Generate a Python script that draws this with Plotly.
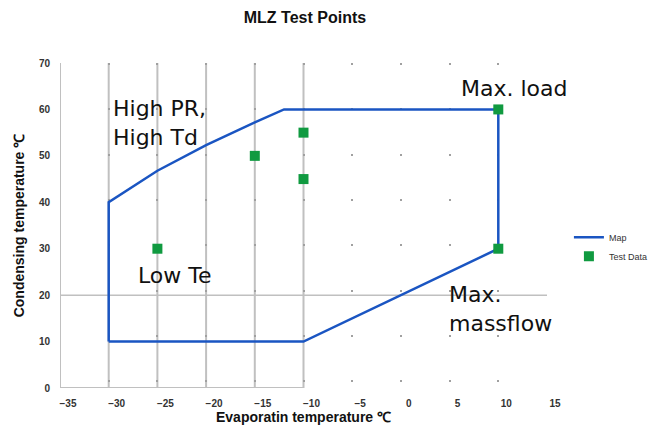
import plotly.graph_objects as go

# Map envelope
map_x = [-30, -10, 10, 10, -12, -15, -20, -25, -30, -30]
map_y = [10, 10, 30, 60, 60, 57.2, 52.3, 46.8, 40, 10]

# Test points
test_x = [-25, -15, -10, -10, 10, 10]
test_y = [30, 50, 55, 45, 60, 30]

x_ticks = [-35, -30, -25, -20, -15, -10, -5, 0, 5, 10, 15]
y_ticks = [0, 10, 20, 30, 40, 50, 60, 70]
solid_x_grid = [-35, -30, -25, -20, -15, -10]
solid_y_grid = [20]

ann_text = ["High PR,<br>High Td", "Max. load", "Low Te", "Max.<br>massflow"]
ann_x = [-29.8, 11.7, -23.2, 4.7]
ann_y = [57.0, 64.5, 24.3, 17.0]
ann_anchor = ["left", "center", "center", "left"]

GRID = "#c0c0c0"
BLUE = "#1a55c2"
GREEN = "#109a40"

fig = go.Figure()
fig.add_trace(go.Scatter(x=map_x, y=map_y, mode="lines", name="Map",
                         line=dict(color=BLUE, width=2.5)))
fig.add_trace(go.Scatter(x=test_x, y=test_y, mode="markers", name="Test Data",
                         marker=dict(color=GREEN, symbol="square", size=10)))

shapes = []
for gx in solid_x_grid:
    shapes.append(dict(type="line", xref="x", yref="y", x0=gx, x1=gx, y0=0, y1=70,
                       line=dict(color=GRID, width=2), layer="below"))
for gy in solid_y_grid:
    shapes.append(dict(type="line", xref="x", yref="y", x0=-35, x1=15, y0=gy, y1=gy,
                       line=dict(color=GRID, width=1.5), layer="below"))
shapes.append(dict(type="line", xref="x", yref="y", x0=-35, x1=-10, y0=0, y1=0,
                   line=dict(color=GRID, width=2), layer="below"))

annotations = []
for t, ax, ay, anc in zip(ann_text, ann_x, ann_y, ann_anchor):
    annotations.append(dict(text=t, x=ax, y=ay, xref="x", yref="y", showarrow=False,
                            xanchor=anc, yanchor="middle", align="left",
                            font=dict(family="DejaVu Sans", size=22, color="#111111")))

fig.update_layout(
    width=650, height=417,
    margin=dict(l=52, r=111, t=55, b=37, autoexpand=False),
    paper_bgcolor="white", plot_bgcolor="white",
    title=dict(text="<b>MLZ Test Points</b>", xref="paper", x=0.503, xanchor="center",
               yref="container", y=0.978, yanchor="middle",
               font=dict(family="Liberation Sans", size=16, color="#111111")),
    shapes=shapes,
    annotations=annotations,
    legend=dict(x=1.045, y=0.435, xanchor="left", yanchor="middle",
                font=dict(family="Liberation Sans", size=9, color="#333333"),
                itemwidth=30, tracegroupgap=0, bgcolor="rgba(0,0,0,0)"),
    xaxis=dict(range=[-35, 15], tickvals=x_ticks, showgrid=True, gridcolor="#a0a0a0",
               griddash="2px,43.3px", gridwidth=1.5, zeroline=False, showline=False,
               ticks="", ticklabelstandoff=8, ticklabelshift=8, automargin=False,
               tickfont=dict(family="Liberation Sans", size=10, color="#333333", weight="bold"),
               title=dict(text="<b>Evaporatin temperature ℃</b>", standoff=8,
                          font=dict(family="Liberation Sans", size=14, color="#111111"))),
    yaxis=dict(range=[0, 70], tickvals=y_ticks, showgrid=False, zeroline=False, showline=False,
               ticks="", ticklabelstandoff=9, automargin=False,
               tickfont=dict(family="Liberation Sans", size=10, color="#333333", weight="bold"),
               title=dict(text="<b>Condensing temperature ℃</b>", standoff=10,
                          font=dict(family="Liberation Sans", size=14, color="#111111"))),
)

fig.write_html("out.html")
